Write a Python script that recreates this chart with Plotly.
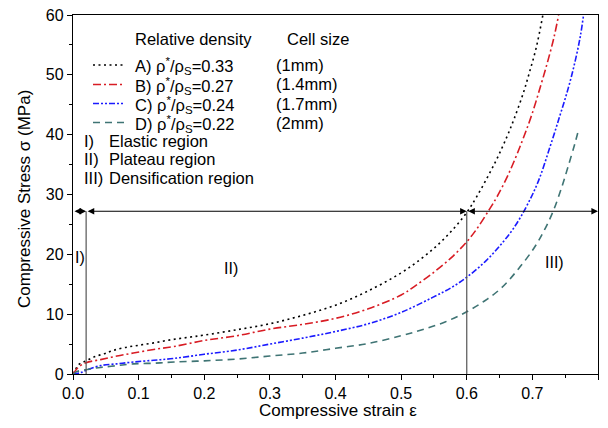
import plotly.graph_objects as go

# ---------------- data ----------------
strain_A = [0, 0.009, 0.016, 0.027, 0.036, 0.048, 0.06, 0.078, 0.1, 0.123, 0.148, 0.174, 0.2,
            0.25, 0.3, 0.35, 0.4, 0.45, 0.5, 0.531, 0.557, 0.58, 0.6, 0.615, 0.643, 0.661,
            0.672, 0.686, 0.695, 0.706, 0.716]
stress_A = [0, 1.6, 2.0, 2.6, 3.0, 3.4, 3.9, 4.4, 4.8, 5.2, 5.7, 6.1, 6.5,
            7.4, 8.4, 9.8, 11.5, 13.9, 16.9, 19.3, 21.7, 24.3, 27.0, 29.6, 35.3, 39.6,
            42.6, 46.9, 50.2, 54.6, 60.0]

strain_B = [0, 0.004, 0.01, 0.02, 0.042, 0.067, 0.092, 0.123, 0.154, 0.2, 0.25, 0.3, 0.35,
            0.4, 0.45, 0.5, 0.521, 0.551, 0.577, 0.6, 0.615, 0.635, 0.646, 0.664, 0.684,
            0.699, 0.713, 0.724, 0.733, 0.740]
stress_B = [0, 0.6, 1.3, 1.9, 2.4, 3.0, 3.5, 4.1, 4.6, 5.6, 6.4, 7.5, 8.3,
            9.3, 10.9, 13.2, 14.7, 17.1, 19.5, 22.1, 24.2, 27.6, 29.6, 33.5, 38.8,
            43.3, 48.3, 52.5, 56.3, 60.0]

strain_C = [0, 0.011, 0.024, 0.042, 0.067, 0.092, 0.123, 0.154, 0.2, 0.25, 0.3, 0.35, 0.4,
            0.45, 0.5, 0.548, 0.579, 0.605, 0.63, 0.651, 0.671, 0.691, 0.709, 0.727,
            0.742, 0.755, 0.765, 0.773, 0.778]
stress_C = [0, 0.2, 0.8, 1.4, 1.7, 2.0, 2.3, 2.6, 3.3, 4.0, 5.0, 6.0, 7.1,
            8.4, 10.3, 12.8, 14.6, 16.6, 19.0, 21.5, 24.3, 28.0, 32.2, 38.0,
            43.2, 47.9, 52.2, 56.4, 60.0]

strain_D = [0, 0.007, 0.024, 0.042, 0.067, 0.092, 0.123, 0.154, 0.2, 0.25, 0.3, 0.35, 0.4,
            0.45, 0.5, 0.532, 0.567, 0.6, 0.627, 0.653, 0.679, 0.704, 0.719, 0.732,
            0.745, 0.754, 0.765, 0.771]
stress_D = [0, 0.45, 0.8, 1.1, 1.4, 1.7, 1.8, 2.0, 2.2, 2.5, 3.0, 3.5, 4.3,
            5.1, 6.4, 7.4, 8.7, 10.4, 12.2, 14.4, 17.6, 21.3, 24.2, 27.3,
            31.3, 34.5, 38.6, 41.1]

series_labels = ["A) ρ<sup>*</sup>/ρ<sub>S</sub>=0.33",
                 "B) ρ<sup>*</sup>/ρ<sub>S</sub>=0.27",
                 "C) ρ<sup>*</sup>/ρ<sub>S</sub>=0.24",
                 "D) ρ<sup>*</sup>/ρ<sub>S</sub>=0.22"]
cell_sizes = ["(1mm)", "(1.4mm)", "(1.7mm)", "(2mm)"]
region_labels = ["I)", "II)", "III)"]
region_names = ["Elastic region", "Plateau region", "Densification region"]
region_bounds = [0.0, 0.02, 0.6, 0.8]
arrow_level = 27.2

x_ticks = [0.0, 0.1, 0.2, 0.3, 0.4, 0.5, 0.6, 0.7, 0.8]
y_ticks = [0, 10, 20, 30, 40, 50, 60]

# ---------------- styles ----------------
FONT = "Liberation Sans, Arial, Helvetica, sans-serif"
colors = ["#000000", "#d81c24", "#1a1aff", "#3f7474"]
dashes = ["2px,3.5px", "8px,3px,2px,3px", "6px,2px,2px,2px,2px,2px", "7px,5px"]
LW = 1.6

W, H = 608, 428
L, R, T, B = 73, 598, 15, 374   # plot area in page pixels


def xp(px):
    return (px - L) / (R - L)


def yp(py):
    return (B - py) / (B - T)


fig = go.Figure()
series = [(strain_A, stress_A), (strain_B, stress_B), (strain_C, stress_C), (strain_D, stress_D)]
for (sx, sy), c, d, name in zip(series, colors, dashes, series_labels):
    fig.add_trace(go.Scatter(x=sx, y=sy, mode="lines", name=name,
                             line=dict(color=c, width=LW, dash=d, shape="spline", smoothing=1.0),
                             showlegend=False, hoverinfo="skip"))

shapes = []
annotations = []

# region boundary lines
for xb in region_bounds[1:3]:
    shapes.append(dict(type="line", xref="x", yref="y", x0=xb, x1=xb, y0=0, y1=arrow_level,
                       line=dict(color="#555555", width=1.2)))

# double arrows for each region
for a, b in zip(region_bounds[:-1], region_bounds[1:]):
    annotations.append(dict(x=b, y=arrow_level, ax=a, ay=arrow_level, xref="x", yref="y",
                            axref="x", ayref="y", text="", showarrow=True,
                            arrowhead=2, startarrowhead=2, arrowside="end+start",
                            arrowsize=1.1, startarrowsize=1.1, arrowwidth=1.2,
                            arrowcolor="#000000", standoff=0, startstandoff=0))

# region labels inside plot
region_pos = [(0.011, 19.4), (0.24, 17.7), (0.733, 18.7)]
for lab, (rx, ry) in zip(region_labels, region_pos):
    annotations.append(dict(x=rx, y=ry, xref="x", yref="y", text=lab, showarrow=False,
                            font=dict(family=FONT, size=16, color="#000")))

# legend-like block
tf = dict(family=FONT, size=16.5, color="#000")
annotations.append(dict(x=xp(133), y=yp(39), xref="paper", yref="paper", text="Relative density",
                        showarrow=False, xanchor="left", yanchor="middle", font=tf))
annotations.append(dict(x=xp(285), y=yp(39), xref="paper", yref="paper", text="Cell size",
                        showarrow=False, xanchor="left", yanchor="middle", font=tf))
row_y = [65, 84.5, 103.5, 122.5]
for lab, cs, c, d, ry in zip(series_labels, cell_sizes, colors, dashes, row_y):
    shapes.append(dict(type="line", xref="paper", yref="paper", x0=xp(93), x1=xp(125),
                       y0=yp(ry), y1=yp(ry), line=dict(color=c, width=LW, dash=d)))
    annotations.append(dict(x=xp(133), y=yp(ry + 1), xref="paper", yref="paper", text=lab,
                            showarrow=False, xanchor="left", yanchor="middle", font=tf))
    annotations.append(dict(x=xp(274), y=yp(ry), xref="paper", yref="paper", text=cs,
                            showarrow=False, xanchor="left", yanchor="middle", font=tf))
reg_y = [140.5, 159, 177.5]
for lab, nm, ry in zip(region_labels, region_names, reg_y):
    annotations.append(dict(x=xp(82), y=yp(ry), xref="paper", yref="paper", text=lab,
                            showarrow=False, xanchor="left", yanchor="middle", font=tf))
    annotations.append(dict(x=xp(107), y=yp(ry), xref="paper", yref="paper", text=nm,
                            showarrow=False, xanchor="left", yanchor="middle", font=tf))

# axis titles
annotations.append(dict(x=xp(338), y=yp(410), xref="paper", yref="paper",
                        text="Compressive strain ε", showarrow=False,
                        xanchor="center", yanchor="middle", font=dict(family=FONT, size=17, color="#000")))
annotations.append(dict(x=xp(24), y=yp(199), xref="paper", yref="paper",
                        text="Compressive Stress σ (MPa)", showarrow=False, textangle=-90,
                        xanchor="center", yanchor="middle", font=dict(family=FONT, size=17, color="#000")))

axis_common = dict(showgrid=False, zeroline=False, showline=True, linecolor="#000", linewidth=1.3,
                   mirror=True, ticks="outside", ticklen=5, tickwidth=1.2, tickcolor="#000",
                   automargin=False,
                   tickfont=dict(family=FONT, size=16, color="#000"))

fig.update_layout(
    template="none",
    width=W, height=H,
    margin=dict(l=L, r=W - R, t=T, b=H - B, pad=0, autoexpand=False),
    paper_bgcolor="white", plot_bgcolor="white",
    xaxis=dict(range=[0, 0.8], tickvals=x_ticks, ticktext=[f"{v:.1f}" for v in x_ticks],
               minor=dict(dtick=0.05, ticks="outside", ticklen=3, tickcolor="#000", tickwidth=1),
               **axis_common),
    yaxis=dict(range=[0, 60], tickvals=y_ticks,
               minor=dict(dtick=5, ticks="outside", ticklen=3, tickcolor="#000", tickwidth=1),
               **axis_common),
    shapes=shapes, annotations=annotations, showlegend=False,
)

fig.write_html("out.html", config={"displayModeBar": False},
               post_script="document.body.style.margin='0';document.body.style.overflow='hidden';")
